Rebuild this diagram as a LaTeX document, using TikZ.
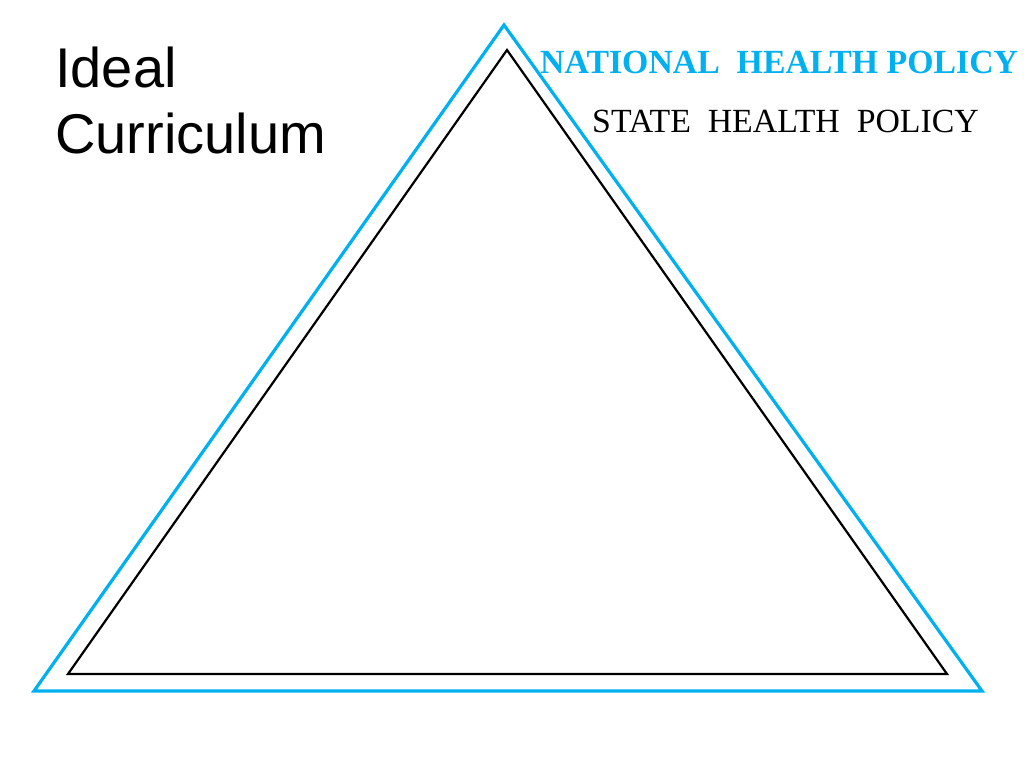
\documentclass[tikz,border=0pt]{standalone}
\usepackage{fontspec}
\setmainfont{Liberation Serif}
\newfontfamily\arialf{Liberation Sans}
\definecolor{policyblue}{RGB}{0,176,240}
\begin{document}
\begin{tikzpicture}[x=1pt,y=-1pt,
  outertri/.style={draw=policyblue,line width=3.2pt,line join=miter},
  innertri/.style={draw=black,line width=2.2pt,line join=miter},
  titletext/.style={anchor=base west,inner sep=0pt,font=\arialf\fontsize{56}{60}\selectfont},
  natext/.style={anchor=base west,inner sep=0pt,text=policyblue,font=\bfseries\fontsize{33.8}{36}\selectfont},
  sttext/.style={anchor=base west,inner sep=0pt,font=\fontsize{33.8}{36}\selectfont}]
\useasboundingbox (0,0) rectangle (1024,768);
\coordinate (bA) at (504,25);
\coordinate (bL) at (34,691);
\coordinate (bR) at (982,691);
\coordinate (kA) at (507,50);
\coordinate (kL) at (68,674);
\coordinate (kR) at (947,674);
\draw[outertri] (bA) -- (bR) -- (bL) -- cycle;
\draw[innertri] (kA) -- (kR) -- (kL) -- cycle;
\node[titletext] (ideal) at (55,87) {Ideal};
\node[titletext] (curr) at (55,153) {Curriculum};
\node[natext] (nhp) at (540,73) {NATIONAL\ \ HEALTH POLICY};
\node[sttext] (shp) at (592,132) {STATE\ \ HEALTH\ \ POLICY};
\end{tikzpicture}
\end{document}
